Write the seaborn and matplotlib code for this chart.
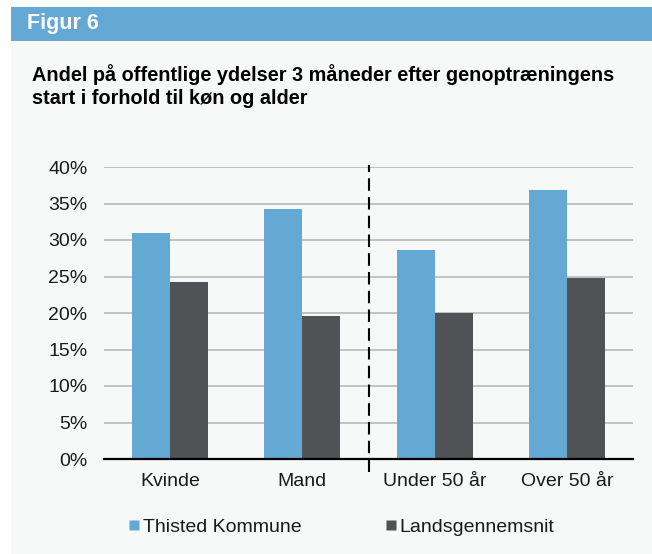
import matplotlib
matplotlib.use("Agg")
import matplotlib.pyplot as plt
from matplotlib.patches import Rectangle
from matplotlib.lines import Line2D
from matplotlib.ticker import FixedLocator, FuncFormatter
import seaborn as sns
import pandas as pd

categories = ["Kvinde", "Mand", "Under 50 år", "Over 50 år"]
series_names = ["Thisted Kommune", "Landsgennemsnit"]
thisted = [0.31, 0.342, 0.286, 0.368]
lands = [0.242, 0.196, 0.20, 0.248]
y_ticks = [0, 0.05, 0.10, 0.15, 0.20, 0.25, 0.30, 0.35, 0.40]

header_text = "Figur 6"
title_text = ("Andel på offentlige ydelser 3 måneder efter genoptræningens\n"
              "start i forhold til køn og alder")

blue = "#63a9d4"
dark = "#515256"
panel_bg = "#f7f8f8"
text_col = "#1a1a1a"

df = pd.DataFrame({
    "kategori": categories * 2,
    "serie": [series_names[0]] * 4 + [series_names[1]] * 4,
    "andel": thisted + lands,
})

sns.set_theme(style="white")
plt.rcParams["font.family"] = ["Liberation Sans", "DejaVu Sans"]

W, H = 652, 554
fig = plt.figure(figsize=(W / 100, H / 100), dpi=100)
fig.patch.set_facecolor("white")

# light panel and blue header band
fig.add_artist(Rectangle((11 / W, 0), 1 - 11 / W, 1 - 6 / H,
                         transform=fig.transFigure, facecolor=panel_bg,
                         edgecolor="none", zorder=0))
fig.add_artist(Rectangle((11 / W, 1 - 41 / H), 1 - 11 / W, 34 / H,
                         transform=fig.transFigure, facecolor="#63a9d4",
                         edgecolor="none", zorder=0))
fig.text(27 / W, 1 - 23 / H, header_text, color="white", fontsize=15.5,
         fontweight="bold", va="center", ha="left")
fig.text(32 / W, 1 - 86 / H, title_text, color="black", fontsize=14.3,
         fontweight="bold", va="center", ha="left", linespacing=1.25)

ax = fig.add_axes([104 / W, 1 - 459 / H, (633 - 104) / W, (459 - 167) / H])
ax.set_facecolor("none")

sns.barplot(data=df, x="kategori", y="andel", hue="serie",
            order=categories, hue_order=series_names,
            palette=[blue, dark], width=0.576, gap=0, linewidth=0,
            saturation=1, errorbar=None, legend=False, ax=ax, zorder=3)

ax.set_ylim(0, 0.40)
ax.set_xlim(-0.5, len(categories) - 0.5)
ax.yaxis.set_major_locator(FixedLocator(y_ticks))
ax.yaxis.set_major_formatter(FuncFormatter(lambda v, p: f"{round(v * 100)}%"))
ax.grid(axis="y", color="#b3b3b3", linewidth=1.1, zorder=0)
ax.set_axisbelow(True)
for s in ["left", "top", "right"]:
    ax.spines[s].set_visible(False)
ax.spines["bottom"].set_color("black")
ax.spines["bottom"].set_linewidth(1.6)
ax.spines["bottom"].set_zorder(5)

ax.set_xlabel("")
ax.set_ylabel("")
ax.tick_params(axis="y", length=0, labelsize=14, pad=12, labelcolor=text_col)
ax.tick_params(axis="x", which="major", length=0, labelsize=14, pad=10,
               labelcolor=text_col)
ax.xaxis.set_minor_locator(FixedLocator([i - 0.5 for i in range(len(categories) + 1)]))
ax.tick_params(axis="x", which="minor", length=5, width=1.6, color="black",
               direction="out")

# divider between gender and age groups
ax.add_line(Line2D([1.5, 1.5], [-0.045, 1.007], transform=ax.get_xaxis_transform(),
                   color="black", linestyle=(0, (6, 3)), linewidth=1.5,
                   clip_on=False, zorder=6))

handles = [Line2D([], [], marker="s", linestyle="none", markersize=7.2,
                  markerfacecolor=c, markeredgecolor="none") for c in (blue, dark)]
fig.legend(handles, series_names, loc="center left",
           bbox_to_anchor=(128 / W, 1 - 527 / H), ncol=2, frameon=False,
           fontsize=14, handletextpad=0.15, columnspacing=4.3,
           handlelength=0.6, borderpad=0, borderaxespad=0,
           labelcolor=text_col)

fig.savefig("out.png", dpi=100, facecolor=fig.get_facecolor())
